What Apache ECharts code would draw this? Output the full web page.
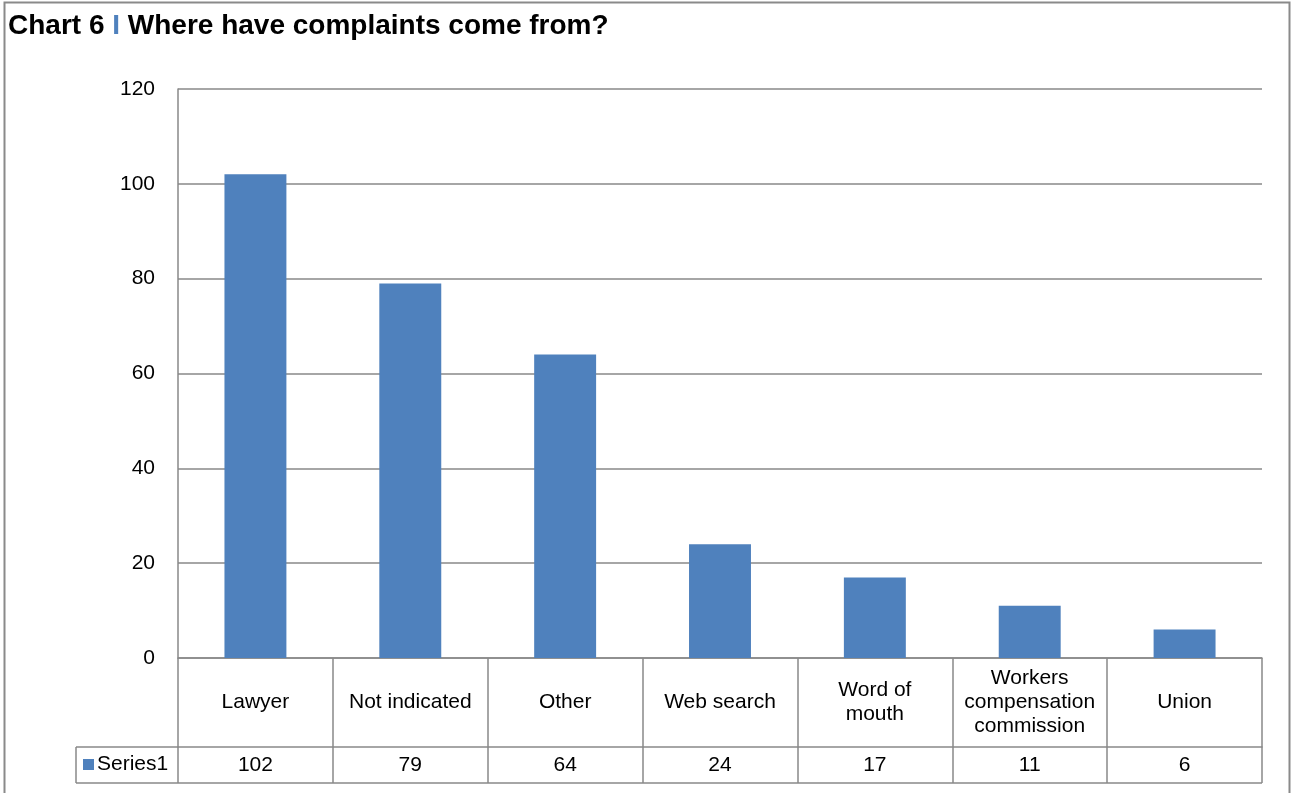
<!DOCTYPE html>
<html>
<head>
<meta charset="utf-8">
<script src="https://cdn.jsdelivr.net/npm/echarts@6/dist/echarts.min.js"></script>
<style>
  html, body { margin: 0; padding: 0; background: #fff; }
  #chart { width: 1291px; height: 793px; }
</style>
</head>
<body>
<div id="chart"></div>
<script>
var categories = ['Lawyer', 'Not indicated', 'Other', 'Web search', 'Word of\nmouth', 'Workers\ncompensation\ncommission', 'Union'];
var values = [102, 79, 64, 24, 17, 11, 6];
var seriesName = 'Series1';

var lineColor = '#898989';
var barColor = '#4f81bd';
var font = 'Arial, "Liberation Sans", sans-serif';

// plot area edges
var gLeft = 178, gRight = 1262, gTop = 89, gBottom = 658;
var rowCat = 89, rowVal = 36, legendLeft = 76;

var myChart = echarts.init(document.getElementById('chart'));

var option = {
    animation: false,
    textStyle: { fontFamily: font },
    title: {
        left: 8,
        top: 12,
        padding: 0,
        text: '{a|Chart 6 }{b|I}{a| Where have complaints come from?}',
        textStyle: {
            rich: {
                a: { fontSize: 28, fontWeight: 'bold', color: '#000', fontFamily: font },
                b: { fontSize: 28, fontWeight: 'bold', color: barColor, fontFamily: font }
            }
        }
    },
    legend: {
        data: [seriesName],
        left: legendLeft + 7,
        top: gBottom + rowCat + 7,
        padding: 0,
        icon: 'rect',
        itemWidth: 11,
        itemHeight: 11,
        itemGap: 4,
        textStyle: { fontSize: 21, color: '#000', fontFamily: font, padding: [0, 0, 0, -2] }
    },
    grid: {
        left: gLeft,
        right: 1291 - gRight,
        top: gTop,
        bottom: 793 - gBottom
    },
    xAxis: [{
        type: 'category',
        data: categories,
        axisLine: { show: true, lineStyle: { color: lineColor, width: 1.5 } },
        axisTick: { show: true, alignWithLabel: false, length: rowCat + rowVal, lineStyle: { color: lineColor, width: 1.5 } },
        axisLabel: {
            interval: 0,
            margin: rowCat / 2,
            verticalAlign: 'middle',
            fontSize: 21,
            lineHeight: 24,
            color: '#000',
            fontFamily: font
        }
    }, {
        type: 'category',
        position: 'bottom',
        offset: rowCat,
        data: values.map(String),
        axisLine: { show: true, lineStyle: { color: lineColor, width: 1.5 } },
        axisTick: { show: false },
        axisLabel: {
            interval: 0,
            margin: rowVal / 2,
            verticalAlign: 'middle',
            fontSize: 21,
            color: '#000',
            fontFamily: font
        }
    }],
    yAxis: {
        type: 'value',
        min: 0,
        max: 120,
        interval: 20,
        axisLine: { show: true, lineStyle: { color: lineColor, width: 1.5 } },
        axisTick: { show: false },
        axisLabel: { margin: 23, fontSize: 21, color: '#000', fontFamily: font },
        splitLine: { lineStyle: { color: lineColor, width: 1.5 } }
    },
    series: [{
        name: seriesName,
        type: 'bar',
        data: values,
        barWidth: '40%',
        itemStyle: { color: barColor }
    }],
    graphic: [
        // outer frame
        { type: 'rect', shape: { x: 4.5, y: 2.5, width: 1285, height: 820 }, style: { fill: null, stroke: '#8a8a8a', lineWidth: 2 }, silent: true },
        // data table lines around legend cell
        { type: 'line', shape: { x1: legendLeft, y1: gBottom + rowCat, x2: gLeft, y2: gBottom + rowCat }, style: { stroke: lineColor, lineWidth: 1.5 } },
        { type: 'line', shape: { x1: legendLeft, y1: gBottom + rowCat + rowVal, x2: gRight, y2: gBottom + rowCat + rowVal }, style: { stroke: lineColor, lineWidth: 1.5 } },
        { type: 'line', shape: { x1: legendLeft, y1: gBottom + rowCat, x2: legendLeft, y2: gBottom + rowCat + rowVal }, style: { stroke: lineColor, lineWidth: 1.5 } }
    ]
};

myChart.setOption(option);
</script>
</body>
</html>
